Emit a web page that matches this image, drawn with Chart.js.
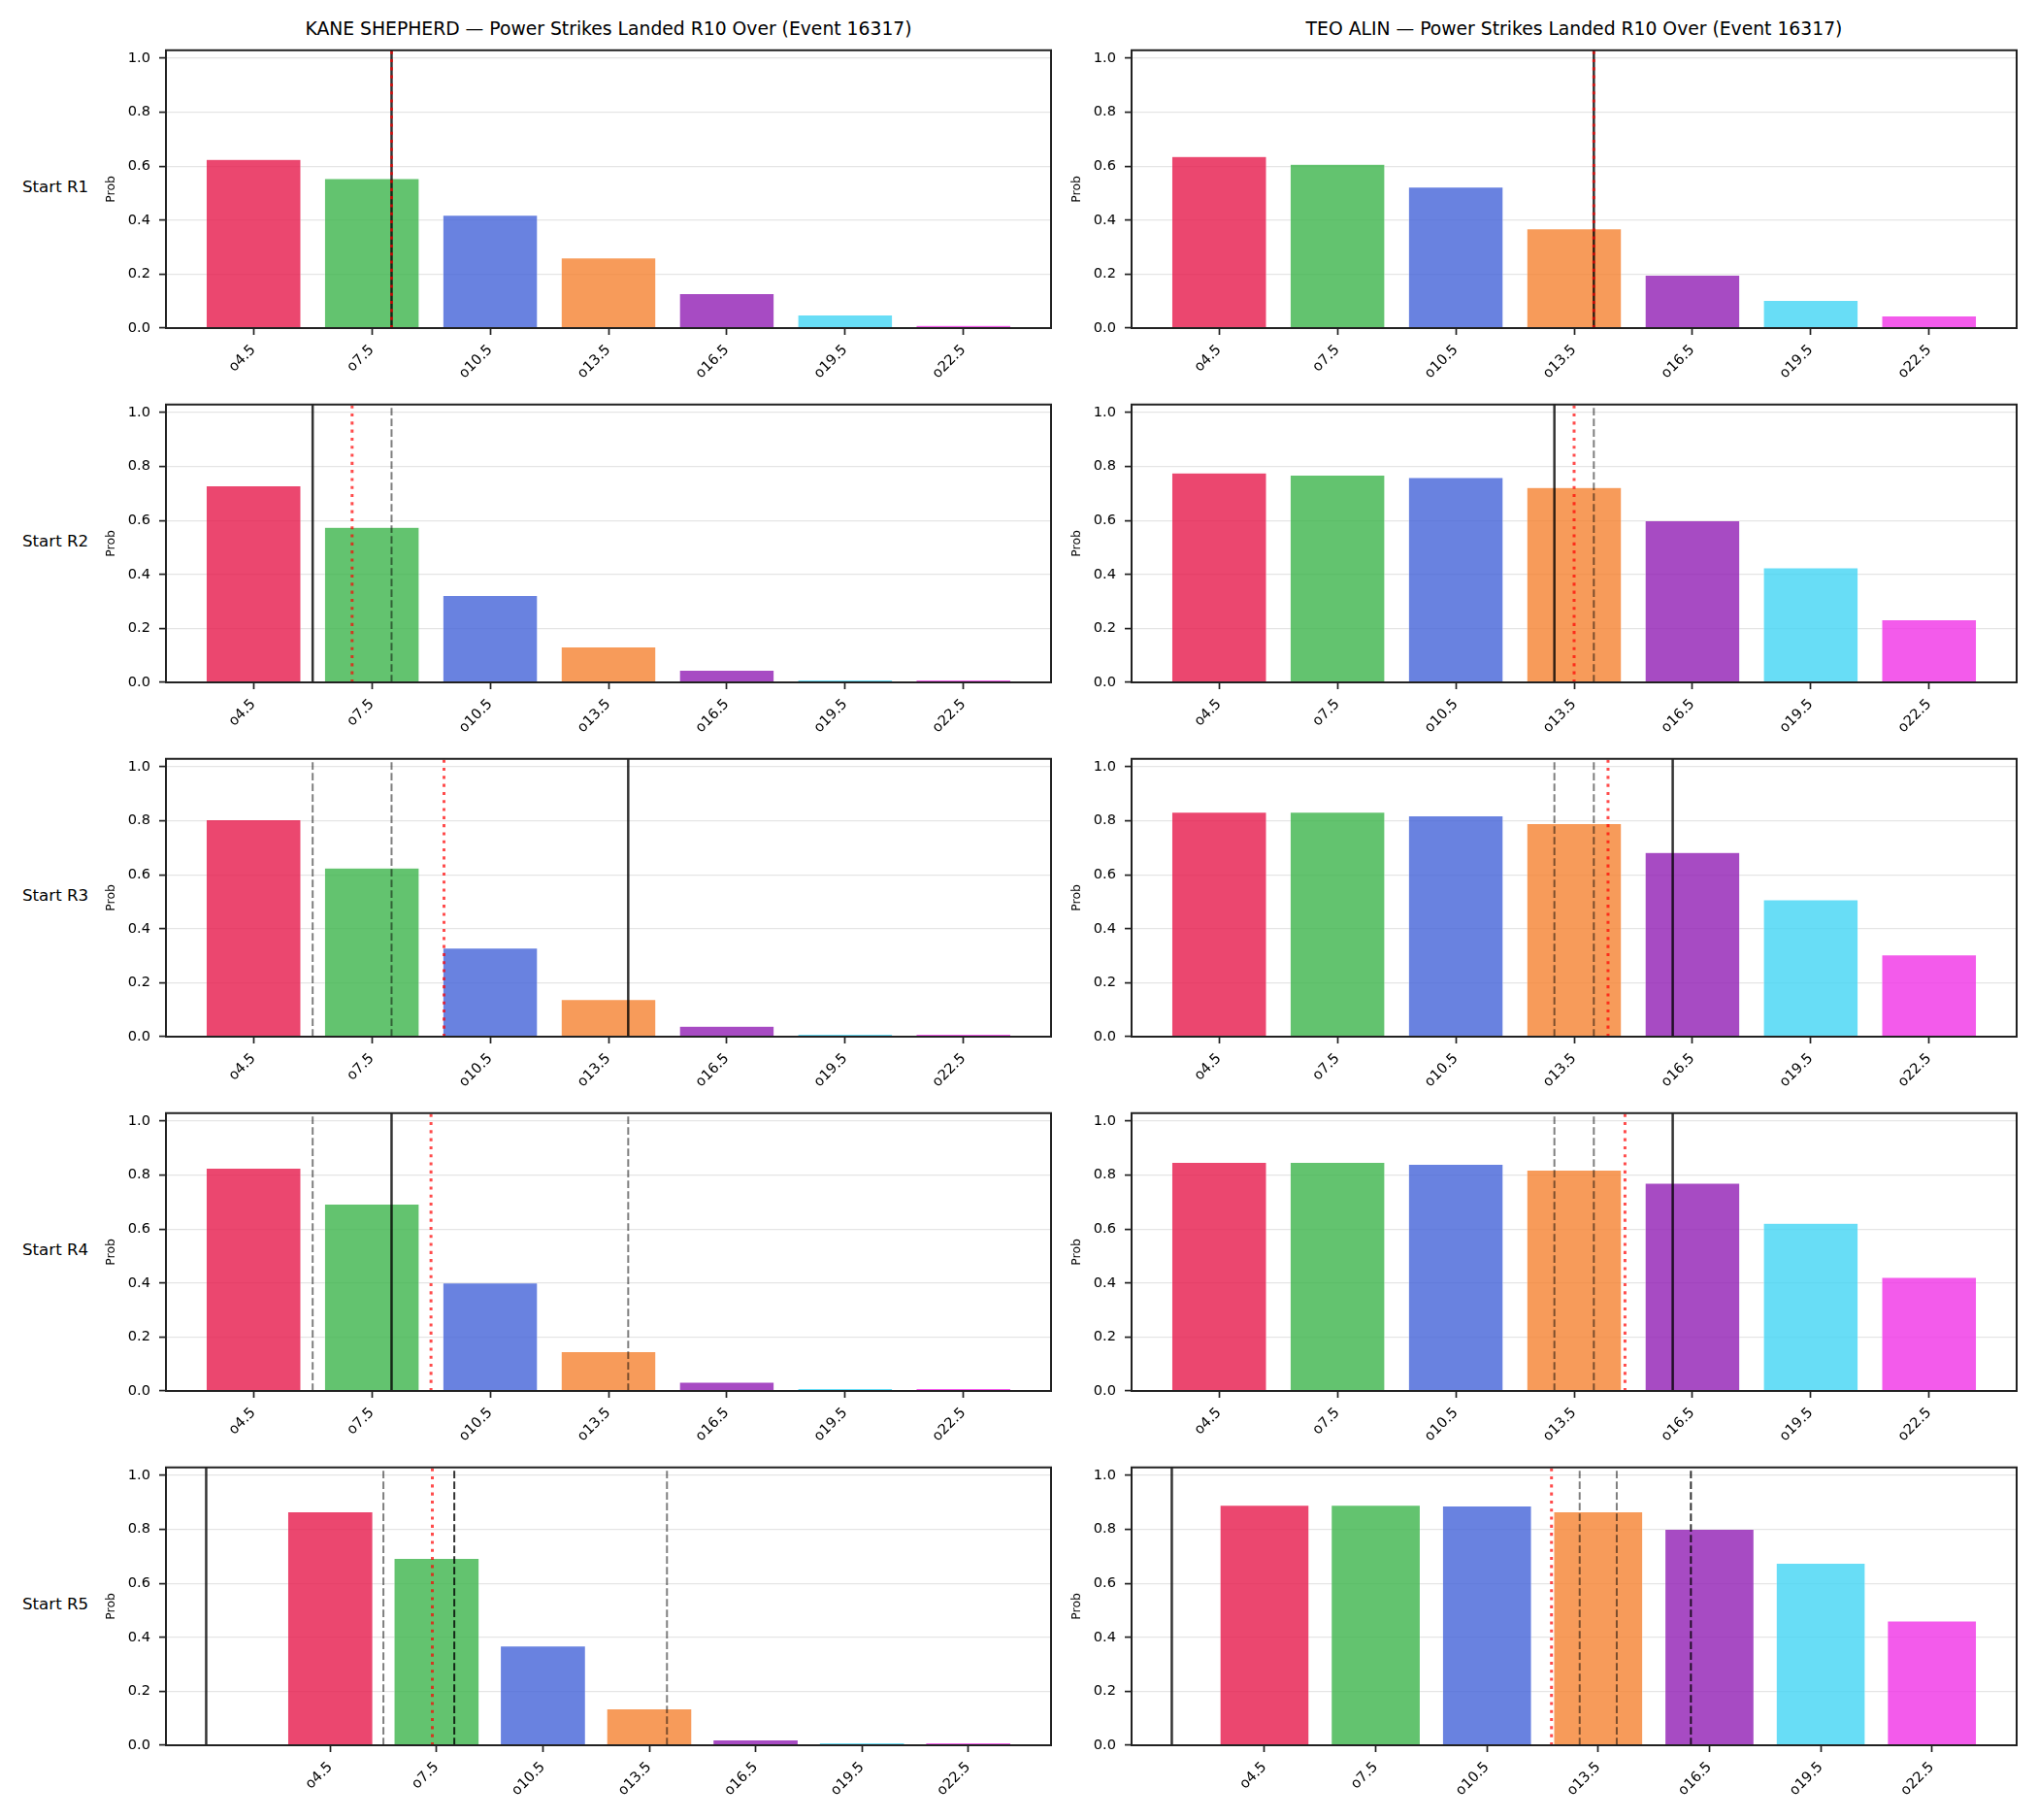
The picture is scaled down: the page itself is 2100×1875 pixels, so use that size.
<!DOCTYPE html>
<html>
<head>
<meta charset="utf-8">
<script src="https://cdn.jsdelivr.net/npm/chart.js@4.4.1/dist/chart.umd.min.js"></script>
<style>
  body { margin: 0; background: #fff; }
  #fig { position: relative; width: 2100px; height: 1875px; background: #fff; font-family: 'DejaVu Sans', sans-serif; color: #000; overflow: hidden; }
  .panel { position: absolute; }
  .title { position: absolute; font-size: 18.75px; line-height: 18.75px; text-align: center; white-space: nowrap; }
  .rowlabel { position: absolute; font-size: 16.67px; line-height: 16.67px; white-space: nowrap; }
</style>
</head>
<body>
<div id="fig"></div>
<script>
// --- Data ---
const categories = ['o4.5', 'o7.5', 'o10.5', 'o13.5', 'o16.5', 'o19.5', 'o22.5'];
const thresholds = [4.5, 7.5, 10.5, 13.5, 16.5, 19.5, 22.5];
const yTicks = [0, 0.2, 0.4, 0.6, 0.8, 1.0];
const rowLabels = ['Start R1', 'Start R2', 'Start R3', 'Start R4', 'Start R5'];
const titles = [
    'KANE SHEPHERD — Power Strikes Landed R10 Over (Event 16317)',
    'TEO ALIN — Power Strikes Landed R10 Over (Event 16317)'
];
const barColors = ['#e6194b', '#3cb44b', '#4363d8', '#f58231', '#911eb4', '#42d4f4', '#f032e6'];

// Kane Shepherd, prob per line, one array per start round
const kaneR1 = [0.625, 0.554, 0.418, 0.260, 0.128, 0.049, 0.010];
const kaneR2 = [0.729, 0.575, 0.322, 0.131, 0.045, 0.009, 0.009];
const kaneR3 = [0.804, 0.625, 0.328, 0.138, 0.039, 0.009, 0.009];
const kaneR4 = [0.826, 0.693, 0.400, 0.146, 0.032, 0.009, 0.009];
const kaneR5 = [0.865, 0.693, 0.368, 0.135, 0.020, 0.009, 0.009];

// Teo Alin
const teoR1 = [0.636, 0.607, 0.523, 0.368, 0.196, 0.103, 0.045];
const teoR2 = [0.776, 0.768, 0.759, 0.722, 0.599, 0.425, 0.232];
const teoR3 = [0.832, 0.832, 0.819, 0.790, 0.683, 0.507, 0.303];
const teoR4 = [0.847, 0.847, 0.840, 0.819, 0.770, 0.622, 0.421];
const teoR5 = [0.890, 0.890, 0.887, 0.865, 0.801, 0.675, 0.461];

// vertical markers (in strikes), one entry per start round
const kaneSolid = [8, 6, 14, 8, 1];
const kaneRed = [8, 7, 9.33, 9, 7.38];
const kaneGrey = [[], [8], [6, 8], [6, 14], [6, 14]];
const kaneDark = [null, null, null, null, 8];

const teoSolid = [14, 13, 16, 16, 2];
const teoRed = [14, 13.5, 14.36, 14.79, 12.24];
const teoGrey = [[], [14], [13, 14], [13, 14], [13, 14]];
const teoDark = [null, null, null, null, 16];

const probs = [
    [kaneR1, kaneR2, kaneR3, kaneR4, kaneR5],
    [teoR1, teoR2, teoR3, teoR4, teoR5]
];
const markers = [
    { solid: kaneSolid, red: kaneRed, grey: kaneGrey, dark: kaneDark },
    { solid: teoSolid, red: teoRed, grey: teoGrey, dark: teoDark }
];

// --- Layout (px) ---
const axLeft = [171, 1166];
const axTop = [50, 415, 780, 1145, 1510];
const axW = 912, axH = 288;
const padL = 70, padR = 10, padT = 16, padB = 70;
const FONT = "'DejaVu Sans', sans-serif";

Chart.defaults.font.family = FONT;

document.addEventListener('DOMContentLoaded', () => {
    const fig = document.getElementById('fig');

    titles.forEach((t, c) => {
        const d = document.createElement('div');
        d.className = 'title';
        d.style.left = axLeft[c] + 'px';
        d.style.width = axW + 'px';
        d.style.top = (axTop[0] - 29) + 'px';
        d.innerText = t;
        fig.appendChild(d);
    });

    rowLabels.forEach((t, r) => {
        const d = document.createElement('div');
        d.className = 'rowlabel';
        d.style.left = '23px';
        d.style.top = (axTop[r] + 135) + 'px';
        d.innerText = t;
        fig.appendChild(d);
    });

    for (let r = 0; r < rowLabels.length; r++) {
        for (let c = 0; c < 2; c++) {
            makePanel(fig, r, c);
        }
    }
});

function hexA(hex, a) {
    const n = parseInt(hex.slice(1), 16);
    return `rgba(${(n >> 16) & 255}, ${(n >> 8) & 255}, ${n & 255}, ${a})`;
}

// like matplotlib autoscale: bars + axvlines, 5% margin
function xLimits(m) {
    const vals = [m.solid, m.red, m.dark, ...m.grey].filter(v => v !== null && v !== undefined);
    const half = 0.4 * (thresholds[1] - thresholds[0]);
    const lo = Math.min(thresholds[0] - half, ...vals);
    const hi = Math.max(thresholds[thresholds.length - 1] + half, ...vals);
    const pad = 0.05 * (hi - lo);
    return [lo - pad, hi + pad];
}

function markerPlugin(m) {
    return {
        id: 'markers',
        afterDatasetsDraw(chart) {
            const { ctx, chartArea: a } = chart;
            const x = chart.scales.x;
            ctx.save();
            ctx.beginPath();
            ctx.rect(a.left, a.top, a.right - a.left, a.bottom - a.top);
            ctx.clip();
            const draw = (v, color, width, dash) => {
                if (v === null || v === undefined) return;
                const px = x.getPixelForValue(v);
                ctx.strokeStyle = color;
                ctx.lineWidth = width;
                ctx.setLineDash(dash);
                ctx.beginPath();
                ctx.moveTo(px, a.bottom);
                ctx.lineTo(px, a.top);
                ctx.stroke();
            };
            m.grey.forEach(v => draw(v, 'rgba(0,0,0,0.5)', 2, [7.7, 3.3]));
            draw(m.dark, 'rgba(0,0,0,0.8)', 2, [7.7, 3.3]);
            draw(m.solid, 'rgba(0,0,0,0.8)', 2.5, []);
            draw(m.red, 'rgba(255,0,0,0.7)', 3, [3.1, 5.2]);
            ctx.restore();
        }
    };
}

const spinePlugin = {
    id: 'spines',
    afterDraw(chart) {
        const { ctx, chartArea: a } = chart;
        ctx.save();
        ctx.strokeStyle = '#222';
        ctx.lineWidth = 2;
        ctx.strokeRect(a.left, a.top, a.right - a.left, a.bottom - a.top);
        ctx.restore();
    }
};

function makePanel(fig, r, c) {
    const vals = probs[c][r];
    const mk = markers[c];
    const m = { solid: mk.solid[r], red: mk.red[r], grey: mk.grey[r], dark: mk.dark[r] };
    const lim = xLimits(m);

    const wrap = document.createElement('div');
    wrap.className = 'panel';
    wrap.style.left = (axLeft[c] - padL) + 'px';
    wrap.style.top = (axTop[r] - padT) + 'px';
    const canvas = document.createElement('canvas');
    canvas.width = padL + axW + padR;
    canvas.height = padT + axH + padB;
    canvas.style.width = canvas.width + 'px';
    canvas.style.height = canvas.height + 'px';
    wrap.appendChild(canvas);
    fig.appendChild(wrap);

    new Chart(canvas.getContext('2d'), {
        type: 'bar',
        data: {
            datasets: [{
                data: thresholds.map((t, i) => ({ x: t, y: vals[i] })),
                backgroundColor: barColors.map(col => hexA(col, 0.8)),
                borderColor: 'rgba(255,255,255,0.8)',
                borderWidth: 0.5,
                barPercentage: 0.8,
                categoryPercentage: 1.0
            }]
        },
        options: {
            responsive: false,
            animation: false,
            devicePixelRatio: 1,
            layout: { padding: { top: padT, right: padR, left: 0, bottom: 0 } },
            plugins: { legend: { display: false }, tooltip: { enabled: false } },
            scales: {
                x: {
                    type: 'linear',
                    offset: false,
                    min: lim[0],
                    max: lim[1],
                    afterBuildTicks: s => { s.ticks = thresholds.map(v => ({ value: v })); },
                    afterFit: s => { s.height = padB; },
                    ticks: {
                        autoSkip: false,
                        minRotation: 45,
                        maxRotation: 45,
                        padding: 7,
                        color: '#000',
                        font: { family: FONT, size: 14.6 },
                        callback: (v, i) => categories[i]
                    },
                    grid: {
                        display: true,
                        offset: false,
                        drawOnChartArea: false,
                        drawTicks: true,
                        tickLength: 7,
                        tickColor: '#222',
                        tickWidth: 1.7
                    },
                    border: { display: false }
                },
                y: {
                    min: 0,
                    max: 1.03,
                    afterBuildTicks: s => { s.ticks = yTicks.map(v => ({ value: v })); },
                    afterFit: s => { s.width = padL; },
                    ticks: {
                        padding: 9,
                        color: '#000',
                        font: { family: FONT, size: 14.6 },
                        callback: v => Number(v).toFixed(1)
                    },
                    grid: {
                        color: 'rgba(0,0,0,0.1)',
                        lineWidth: 1.2,
                        drawTicks: true,
                        tickLength: 7,
                        tickColor: '#222',
                        tickWidth: 1.7
                    },
                    border: { display: false },
                    title: {
                        display: true,
                        text: 'Prob',
                        color: '#000',
                        font: { family: FONT, size: 12.5 },
                        padding: { top: 6, bottom: 0 }
                    }
                }
            }
        },
        plugins: [markerPlugin(m), spinePlugin]
    });
}
</script>
</body>
</html>
